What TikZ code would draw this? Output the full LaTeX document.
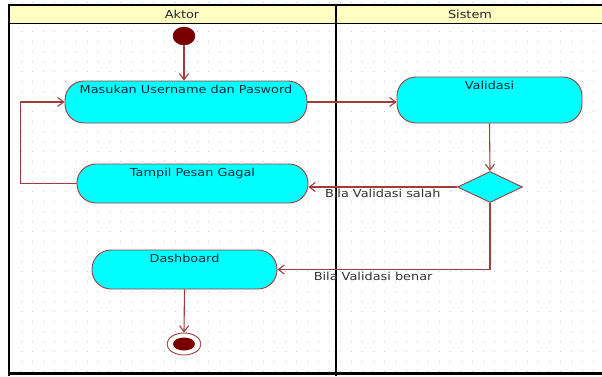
\documentclass[tikz,border=0pt]{standalone}
\usepackage{fontspec}
\setmainfont{DejaVu Sans}[FakeStretch=1.17]
\usetikzlibrary{arrows.meta,shapes.geometric}
\definecolor{lanefill}{HTML}{FFFFC4}
\definecolor{actfill}{HTML}{00FFFF}
\definecolor{edgec}{HTML}{A03C3C}
\definecolor{dotc}{HTML}{C4C4C4}
\definecolor{txtc}{HTML}{0E2A34}
\definecolor{startc}{HTML}{7A0000}
\begin{document}
\begin{tikzpicture}[x=1pt,y=-1pt,
  font=\fontsize{11}{13}\selectfont,
  activity/.style={draw=edgec, fill=actfill, rounded corners=19pt, line width=0.9pt, inner sep=0pt},
  acttext/.style={anchor=north, yshift=-3pt, text=txtc, inner sep=1pt},
  flow/.style={draw=edgec, line width=1.1pt, -{Straight Barb[length=6pt,width=9pt]}},
  lbl/.style={text=black!80, inner sep=1pt},
  lane/.style={draw=black, line width=2.6pt},
  dec/.style={shape=diamond, draw=edgec, fill=actfill, line width=0.9pt, inner sep=0pt, minimum width=65pt, minimum height=31pt, aspect=2.1},
  startst/.style={shape=ellipse, fill=startc, draw=startc, inner sep=0pt, minimum width=22pt, minimum height=18pt},
  endst/.style={shape=ellipse, draw=edgec, fill=white, line width=0.9pt, inner sep=0pt, minimum width=34pt, minimum height=22pt},
  endin/.style={shape=ellipse, fill=startc, inner sep=0pt, minimum width=22pt, minimum height=13pt}
]
\useasboundingbox (0,0) rectangle (602,376);
\fill[white] (0,0) rectangle (602,376);
% grid dots
\foreach \i in {0,...,53} {
  \foreach \j in {0,...,35} {
    \fill[dotc] (20.5+11*\i, 30.5+10*\j) rectangle ++(1.2,1.2);
  }
}
\foreach \i in {0,...,53} {
  \fill[dotc] (20.5+11*\i, 1.5) rectangle ++(1.2,1.2);
}
% header
\fill[lanefill] (9,5) rectangle (602,23);
\draw[black, line width=1.4pt] (9,5) -- (602,5);
\draw[black, line width=1.6pt] (9,23.5) -- (602,23.5);
\node[text=black!85] (aktor) at (182,14) {Aktor};
\node[text=black!85] (sistem) at (470,14) {Sistem};
% lane borders
\draw[lane] (9,4) -- (9,376);
\draw[lane] (336,4) -- (336,376);
\draw[black, line width=3.4pt] (9,373.5) -- (602,373.5);

% nodes
\node[startst] (start) at (184,36) {};
\node[activity, minimum width=242pt, minimum height=42pt,
  label={[acttext]north:Masukan Username dan Pasword}] (masuk) at (186,102) {};
\node[activity, minimum width=185pt, minimum height=46pt,
  label={[acttext]north:Validasi}] (valid) at (489.5,100) {};
\node[activity, minimum width=231pt, minimum height=39pt,
  label={[acttext]north:Tampil Pesan Gagal}] (tampil) at (192.5,183.5) {};
\node[dec] (cek) at (490,187) {};
\node[activity, minimum width=185pt, minimum height=39pt,
  label={[acttext]north:Dashboard}] (dash) at (184.5,269.5) {};
\node[endst] (stop) at (184,344) {};
\node[endin] (stopin) at (stop) {};

% connectors
\draw[flow] (start) -- (start |- masuk.north);
\draw[flow] (masuk.east |- 0,102) -- (valid.west |- 0,102);
\draw[flow] (valid.south) -- (cek.north);
\draw[flow] (cek.west) -- node[lbl, pos=0.5, below, yshift=-1pt] (lsalah) {Bila Validasi salah} (cek.west -| tampil.east);
\draw[flow] (tampil.west) -- ++(-56,0) |- (masuk.west);
\draw[flow] (cek.south) |- node[lbl, pos=0.775, below, yshift=-1pt] (lbenar) {Bila Validasi benar} (dash.east);
\draw[flow] (dash.south) -- (stop.north);
\end{tikzpicture}
\end{document}
